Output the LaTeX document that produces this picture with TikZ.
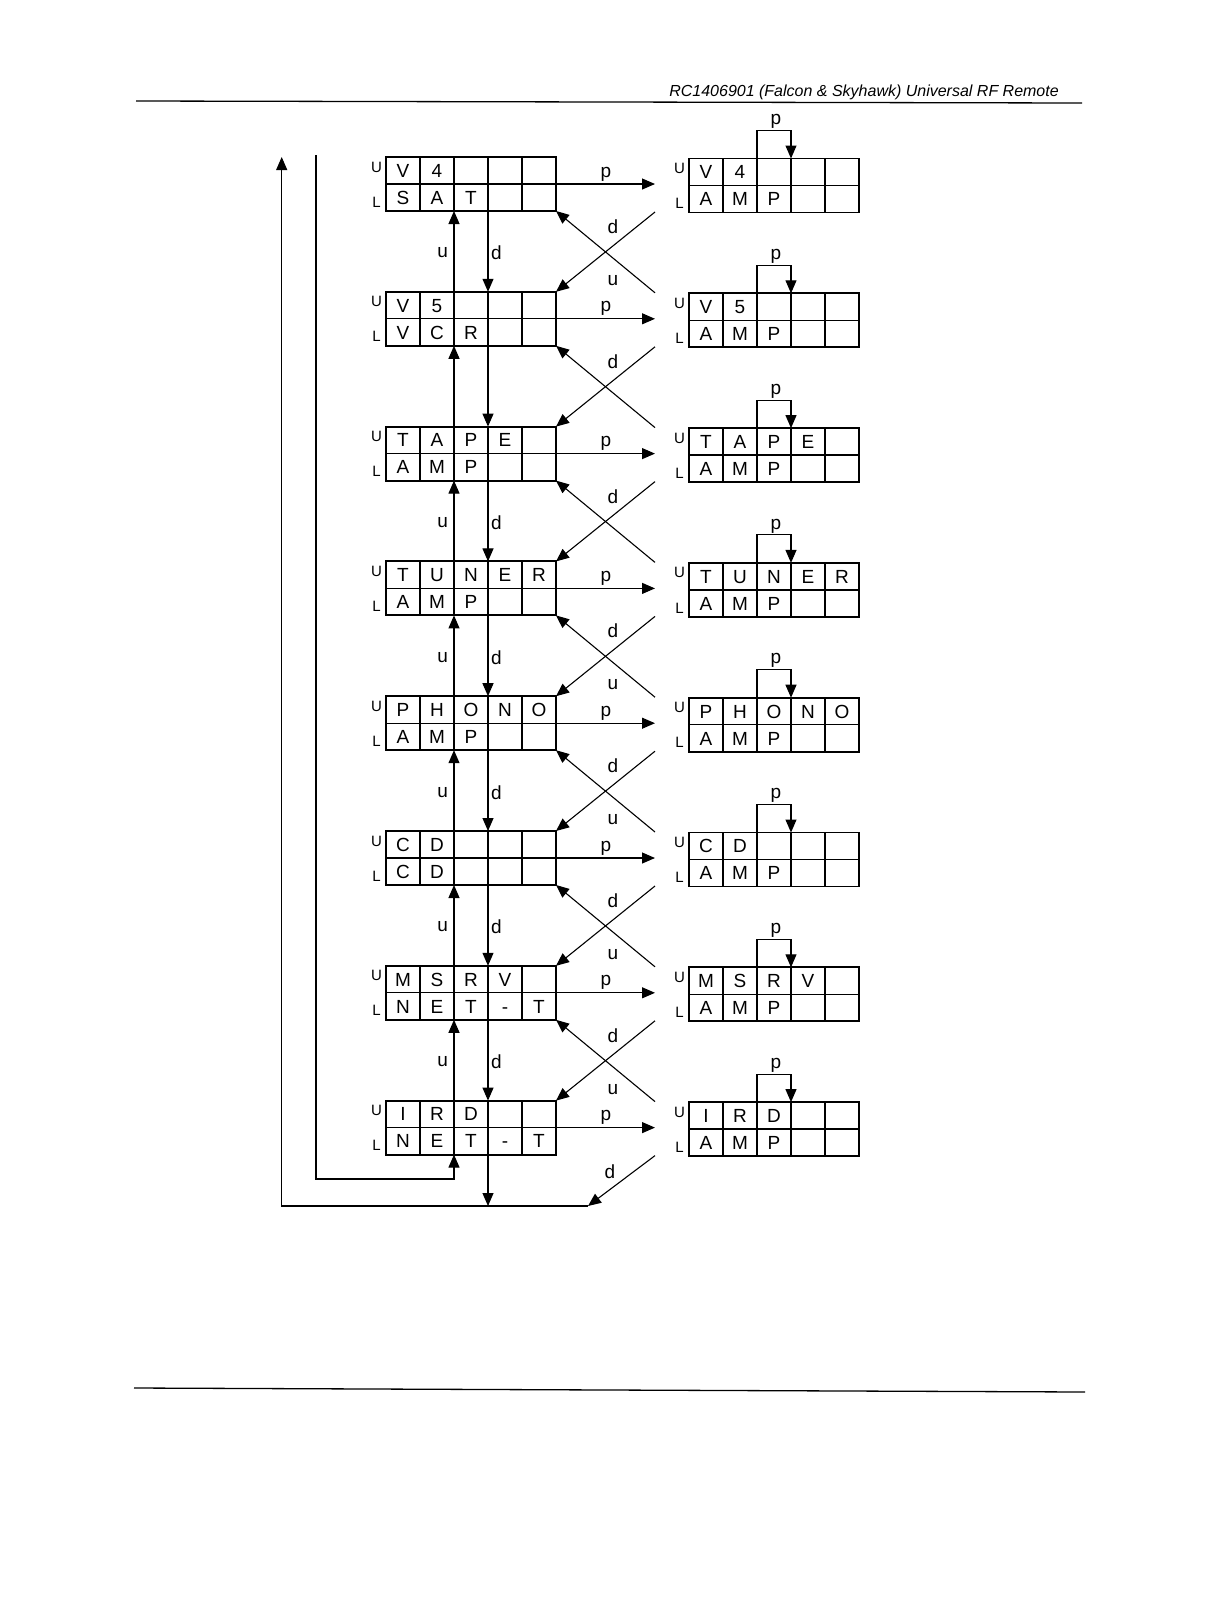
\documentclass[tikz,border=0pt]{standalone}
\usepackage{fontspec}
\setmainfont{Liberation Sans}
\usetikzlibrary{arrows.meta,calc}
\newcommand\rcbox[5]{%
  \node[boxframe] (#1) at (#2,#3) {};
  \draw[grid] (#1.west) -- (#1.east);
  \foreach \k in {1,2,3,4}{\draw[grid] ($(#1.north west)+(\k*34,0)$) -- ($(#1.south west)+(\k*34,0)$);}
  \node[side] (#1U) at ($(#1.north west)+(-9.5,10)$) {U};
  \node[side] (#1L) at ($(#1.south west)+(-9.5,-9)$) {L};
  \foreach \ch [count=\k] in {#4}{\node[letter] (#1u\k) at ($(#1.north west)+(\k*34-17,13.5)$) {\ch};}
  \foreach \ch [count=\k] in {#5}{\node[letter] (#1l\k) at ($(#1.north west)+(\k*34-17,40.5)$) {\ch};}
}
\begin{document}
\begin{tikzpicture}[x=1pt,y=-1pt,
  boxframe/.style={draw, line width=1.9pt, minimum width=170pt, minimum height=54pt, inner sep=0pt, outer sep=0pt, anchor=north west},
  grid/.style={line width=1.3pt},
  letter/.style={font=\fontsize{19}{19}\selectfont, inner sep=0pt, text height=13.6pt, text depth=0pt},
  side/.style={font=\fontsize{15}{15}\selectfont, inner sep=0pt},
  lbl/.style={font=\fontsize{19}{19}\selectfont, inner sep=0pt},
  conn/.style={line width=1.1pt, -{Triangle[length=13pt,width=11pt]}},
  rule/.style={line width=1.3pt},
]
\useasboundingbox (0,0) rectangle (1221,1618);

% header and footer
\node[anchor=base east, inner sep=0pt, font=\fontsize{16}{16}\selectfont\itshape] (head) at (1059,96) {RC1406901 (Falcon \& Skyhawk) Universal RF Remote};
\draw[rule] (136,101) -- (1082,103);
\draw[rule] (134,1388) -- (1085,1392);

% left column
\rcbox{L0}{386}{157}{V,4}{S,A,T}
\rcbox{L1}{386}{291.8}{V,5}{V,C,R}
\rcbox{L2}{386}{426.6}{T,A,P,E}{A,M,P}
\rcbox{L3}{386}{561.4}{T,U,N,E,R}{A,M,P}
\rcbox{L4}{386}{696.2}{P,H,O,N,O}{A,M,P}
\rcbox{L5}{386}{831}{C,D}{C,D}
\rcbox{L6}{386}{965.8}{M,S,R,V}{N,E,T,-,T}
\rcbox{L7}{386}{1100.6}{I,R,D}{N,E,T,-,T}

% right column
\rcbox{R0}{689}{158.5}{V,4}{A,M,P}
\rcbox{R1}{689}{293.3}{V,5}{A,M,P}
\rcbox{R2}{689}{428.1}{T,A,P,E}{A,M,P}
\rcbox{R3}{689}{562.9}{T,U,N,E,R}{A,M,P}
\rcbox{R4}{689}{697.7}{P,H,O,N,O}{A,M,P}
\rcbox{R5}{689}{832.5}{C,D}{A,M,P}
\rcbox{R6}{689}{967.3}{M,S,R,V}{A,M,P}
\rcbox{R7}{689}{1102.1}{I,R,D}{A,M,P}

% p arrows and p loops
\foreach \i in {0,...,7}{
  \coordinate (P\i) at ($(L\i.east)+(99,0)$);
  \draw[conn] (L\i.east) -- (P\i);
  \node[lbl] (pl\i) at ($(L\i.east)+(50,-10)$) {p};
  \coordinate (Ba\i) at ($(R\i.north west)+(68,0)$);
  \coordinate (Bb\i) at ($(R\i.north west)+(102,0)$);
  \draw[conn] (Ba\i) -- ++(0,-28) -| (Bb\i);
  \node[lbl] (bp\i) at ($(R\i.north west)+(87,-37)$) {p};
}

% vertical u/d and crossing arrows between rows
\foreach \i [count=\j from 1] in {0,...,6}{
  \draw[conn] ($(L\j.north west)+(68,0)$) -- ($(L\i.south west)+(68,0)$);
  \draw[conn] ($(L\i.south west)+(102,0)$) -- ($(L\j.north west)+(102,0)$);
  \coordinate (Xa\i) at ($(L\i.south east)+(99,1)$);
  \coordinate (Xb\i) at ($(L\j.north east)+(99,1)$);
  \draw[conn] (Xa\i) -- (L\j.north east);
  \draw[conn] (Xb\i) -- (L\i.south east);
  \node[lbl] (xd\i) at ($(L\i.south east)+(57,15.7)$) {d};
}
\foreach \i in {0,2,3,4,5,6}{
  \node[lbl] (vu\i) at ($(L\i.south west)+(56.7,42)$) {u};
  \node[lbl] (vd\i) at ($(L\i.south west)+(110.5,42)$) {d};
}
\foreach \i [evaluate=\i as \j using int(\i+1)] in {0,3,4,5,6}{
  \node[lbl] (xu\i) at ($(L\j.north east)+(57,-11.5)$) {u};
}

% bottom return paths
\coordinate (Xa7) at ($(L7.south east)+(99,1)$);
\coordinate (botend) at (588,1206);
\draw[conn] (Xa7) -- (botend);
\node[lbl] (xd7) at (610,1172) {d};
\coordinate (outertop) at (281.7,157);
\draw[conn] (botend) -| (outertop);
\coordinate (innertop) at (316,155);
\coordinate (innerturn) at (316,1179);
\draw[conn] (innertop) -- (innerturn) -| ($(L7.south west)+(68,0)$);
\coordinate (dstart) at ($(L7.south west)+(102,0)$);
\draw[conn] (dstart) -- (dstart |- botend);
\end{tikzpicture}
\end{document}
